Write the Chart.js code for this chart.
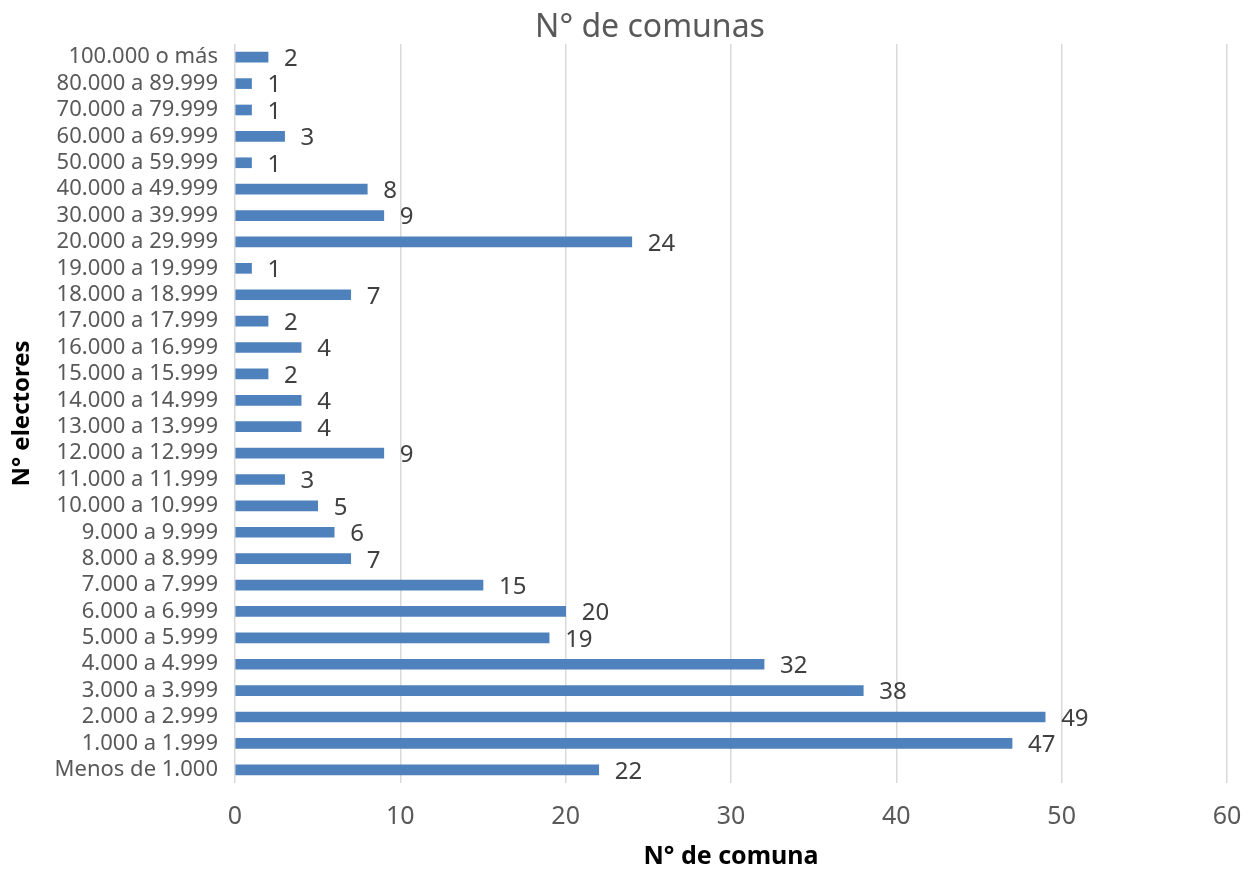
<!DOCTYPE html>
<html>
<head>
<meta charset="utf-8">
<script src="https://cdn.jsdelivr.net/npm/chart.js@4"></script>
<style>
  html, body { margin: 0; padding: 0; background: #fff; }
  canvas { display: block; }
</style>
</head>
<body>
<canvas id="chart" width="1256" height="869"></canvas>
<script>
const categories = [
  "100.000 o más", "80.000 a 89.999", "70.000 a 79.999", "60.000 a 69.999",
  "50.000 a 59.999", "40.000 a 49.999", "30.000 a 39.999", "20.000 a 29.999",
  "19.000 a 19.999", "18.000 a 18.999", "17.000 a 17.999", "16.000 a 16.999",
  "15.000 a 15.999", "14.000 a 14.999", "13.000 a 13.999", "12.000 a 12.999",
  "11.000 a 11.999", "10.000 a 10.999", "9.000 a 9.999", "8.000 a 8.999",
  "7.000 a 7.999", "6.000 a 6.999", "5.000 a 5.999", "4.000 a 4.999",
  "3.000 a 3.999", "2.000 a 2.999", "1.000 a 1.999", "Menos de 1.000",
];
const comunas = [2, 1, 1, 3, 1, 8, 9, 24, 1, 7, 2, 4, 2, 4, 4, 9, 3, 5, 6, 7, 15, 20, 19, 32, 38, 49, 47, 22];
const xTicks = [0, 10, 20, 30, 40, 50, 60];

const FONT = "'Noto Sans', 'DejaVu Sans', sans-serif";

// value labels + chart title, drawn on the canvas
const valueLabels = {
  id: "valueLabels",
  afterDatasetsDraw(chart) {
    const { ctx } = chart;
    const meta = chart.getDatasetMeta(0);
    ctx.save();
    ctx.font = "24px " + FONT;
    ctx.fillStyle = "#404040";
    ctx.textAlign = "left";
    ctx.textBaseline = "middle";
    meta.data.forEach((bar, i) => {
      ctx.fillText(String(comunas[i]), bar.x + 16, bar.y + 2);
    });
    ctx.font = "32px " + FONT;
    ctx.fillStyle = "#595959";
    ctx.textAlign = "center";
    ctx.fillText("N° de comunas", 650, 28);
    ctx.restore();
  },
};

new Chart(document.getElementById("chart"), {
  type: "bar",
  data: {
    labels: categories,
    datasets: [{
      label: "N° de comunas",
      data: comunas,
      backgroundColor: "#4f81bd",
      barThickness: 10,
    }],
  },
  options: {
    indexAxis: "y",
    responsive: false,
    animation: false,
    layout: {
      padding: { top: 44, right: 29, bottom: 0, left: 0 },
    },
    plugins: {
      legend: { display: false },
      tooltip: { enabled: false },
      title: { display: false },
    },
    scales: {
      x: {
        min: 0,
        max: 60,
        afterBuildTicks(scale) {
          scale.ticks = xTicks.map(v => ({ value: v }));
        },
        afterFit(scale) {
          scale.height = 86;
          scale.paddingLeft = 0;
          scale.paddingRight = 0;
        },
        grid: {
          color: "#d9d9d9",
          lineWidth: 1.5,
          drawTicks: false,
        },
        border: { display: false },
        ticks: {
          padding: 19,
          color: "#595959",
          font: { family: FONT, size: 25 },
        },
        title: {
          display: true,
          text: "N° de comuna",
          color: "#000",
          padding: { top: 0, bottom: 0 },
          font: { family: FONT, size: 25, weight: "bold", lineHeight: 1 },
        },
      },
      y: {
        afterFit(scale) {
          scale.width = 235;
        },
        grid: { display: false, drawTicks: false },
        border: { display: false },
        ticks: {
          padding: 17,
          autoSkip: false,
          color: "#595959",
          font: { family: FONT, size: 22 },
        },
        title: {
          display: true,
          text: "N° electores",
          color: "#000",
          padding: { top: 10, bottom: 0 },
          font: { family: FONT, size: 24, weight: "bold", lineHeight: 1 },
        },
      },
    },
  },
  plugins: [valueLabels],
});
</script>
</body>
</html>
